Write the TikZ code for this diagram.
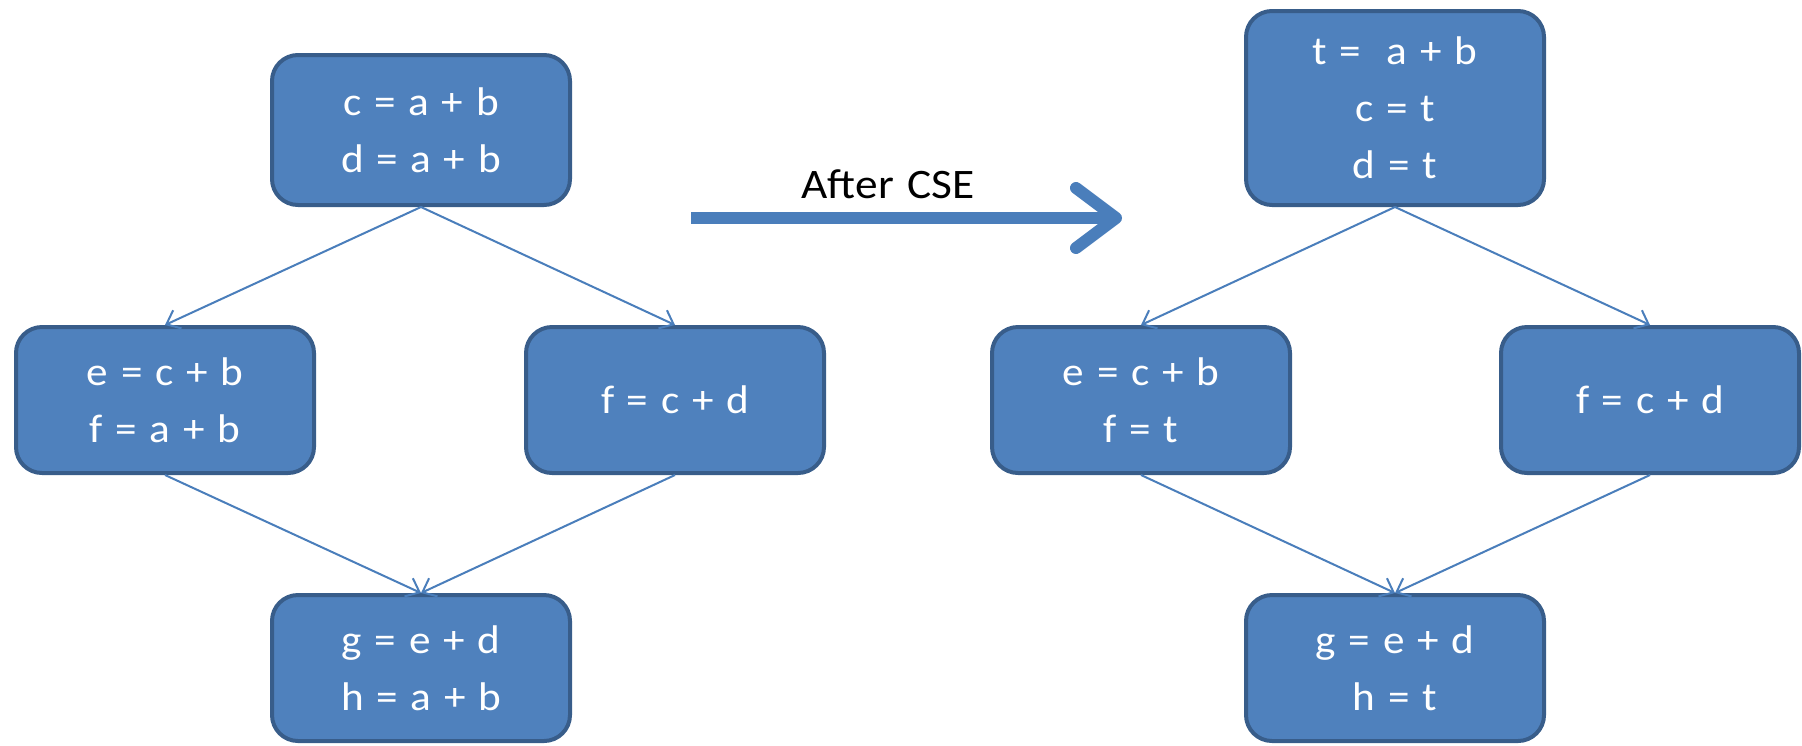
\documentclass[tikz,border=0pt]{standalone}
\usepackage{fontspec}
\setmainfont{Carlito}[FakeStretch=1.08,WordSpace=1.3]
\usetikzlibrary{arrows.meta}
\definecolor{boxfill}{HTML}{4F81BD}
\definecolor{boxline}{HTML}{385D8A}
\definecolor{edgeblue}{HTML}{4A7EBB}
\tikzset{
    cfgbox/.style={
        draw=boxline,
        line width=2pt,
        fill=boxfill,
        rounded corners=13pt,
        text=white,
        align=center,
        inner sep=0pt,
        minimum width=149pt,
        minimum height=73pt,
        font=\fontsize{20}{28.5}\selectfont},
    every edge/.style={
        draw=edgeblue,
        line width=1pt,
        -{Straight Barb[length=6pt,width=10pt]}},
    csearrow/.style={
        draw=edgeblue,
        line width=6pt,
        -{Straight Barb[length=20pt,width=30pt,round]}}}
\begin{document}
\begin{tikzpicture}[x=0.5pt,y=-0.5pt]
        \useasboundingbox (0,0) rectangle (1802,745);
        % before CSE
        \node[cfgbox,minimum height=75pt] (ltop) at (421,130) {c = a + b\\d = a + b};
        \node[cfgbox] (lleft) at (165,400) {e = c + b\\f = a + b};
        \node[cfgbox] (lright) at (675,400) {f = c + d};
        \node[cfgbox] (lbot) at (421,668) {g = e + d\\h = a + b};

        \draw (ltop.south) edge (lleft.north);
        \draw (ltop.south) edge (lright.north);
        \draw (lleft.south) edge (lbot.north);
        \draw (lright.south) edge (lbot.north);

        % after CSE
        \node[cfgbox,minimum height=97pt] (rtop) at (1395,108) {t = \ a + b\\c = t\\d = t};
        \node[cfgbox] (rleft) at (1141,400) {e = c + b\\f = t};
        \node[cfgbox] (rright) at (1650,400) {f = c + d};
        \node[cfgbox] (rbot) at (1395,668) {g = e + d\\h = t};

        \draw (rtop.south) edge (rleft.north);
        \draw (rtop.south) edge (rright.north);
        \draw (rleft.south) edge (rbot.north);
        \draw (rright.south) edge (rbot.north);

        \coordinate (cseA) at (691,218);
        \coordinate (cseB) at (1122,218);
        \draw[csearrow] (cseA) -- (cseB);
        \node[font=\fontsize{21}{24}\selectfont] (cselabel) at (888,184) {After CSE};
    \end{tikzpicture}
\end{document}
